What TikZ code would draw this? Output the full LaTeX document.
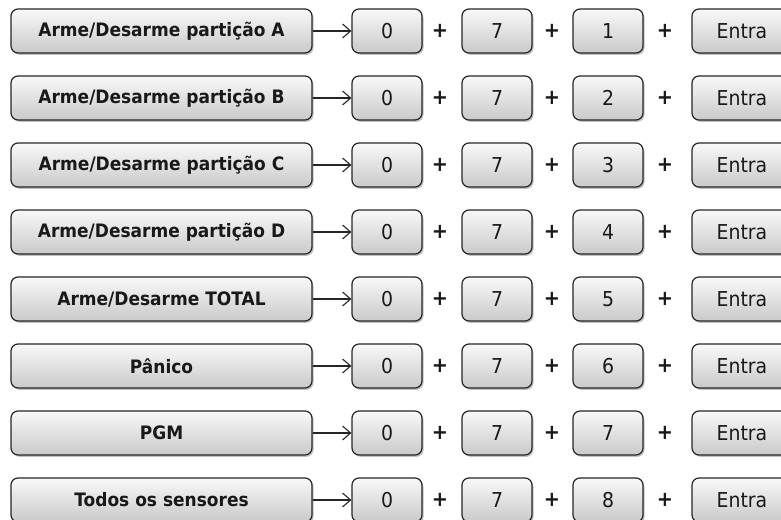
\documentclass[tikz,border=0pt]{standalone}
\usepackage{fontspec}
\setmainfont{DejaVu Sans}[FakeStretch=0.92]
\usetikzlibrary{arrows.meta,shadows}
\tikzset{
  keybox/.style={draw=black!85, line width=1.2pt, rounded corners=7pt,
    top color=gray!5, bottom color=gray!42,
    drop shadow={shadow xshift=1.5pt, shadow yshift=-1.8pt, fill=black, opacity=0.25},
    minimum height=44pt, inner sep=0pt, text=black!90,
    font=\fontsize{20.5}{24}\selectfont},
  labelbox/.style={keybox, minimum width=301pt, font=\fontsize{18.5}{22}\selectfont\bfseries},
  digitbox/.style={keybox, minimum width=70pt},
  entrabox/.style={keybox, minimum width=100pt},
  plussign/.style={inner sep=0pt, text=black!90, font=\fontsize{21}{24}\selectfont\bfseries},
  link/.style={line width=1.1pt, draw=black!85, -{Straight Barb[length=8pt,width=14pt,line width=1.1pt]}}
}
\newcommand\keyrow[3]{%
  \node[labelbox] (l#1) at (161.5,{31+67*(#1-1)}) {#2};
  \node[digitbox] (a#1) at (387,{31+67*(#1-1)}) {0};
  \node[plussign] (p#1a) at (440,{31+67*(#1-1)}) {+};
  \node[digitbox] (b#1) at (497,{31+67*(#1-1)}) {7};
  \node[plussign] (p#1b) at (552,{31+67*(#1-1)}) {+};
  \node[digitbox] (c#1) at (608,{31+67*(#1-1)}) {#3};
  \node[plussign] (p#1c) at (665,{31+67*(#1-1)}) {+};
  \node[entrabox] (e#1) at (742,{31+67*(#1-1)}) {Entra};
  \draw[link] (l#1) -- (a#1);
}
\begin{document}
\begin{tikzpicture}[x=1pt,y=-1pt]
\useasboundingbox (0,0) rectangle (781,519);
\clip (0,0) rectangle (781,519);
\fill[white] (0,0) rectangle (781,519);
\keyrow{1}{Arme/Desarme partição A}{1}
\keyrow{2}{Arme/Desarme partição B}{2}
\keyrow{3}{Arme/Desarme partição C}{3}
\keyrow{4}{Arme/Desarme partição D}{4}
\keyrow{5}{Arme/Desarme TOTAL}{5}
\keyrow{6}{Pânico}{6}
\keyrow{7}{PGM}{7}
\keyrow{8}{Todos os sensores}{8}
\end{tikzpicture}
\end{document}
